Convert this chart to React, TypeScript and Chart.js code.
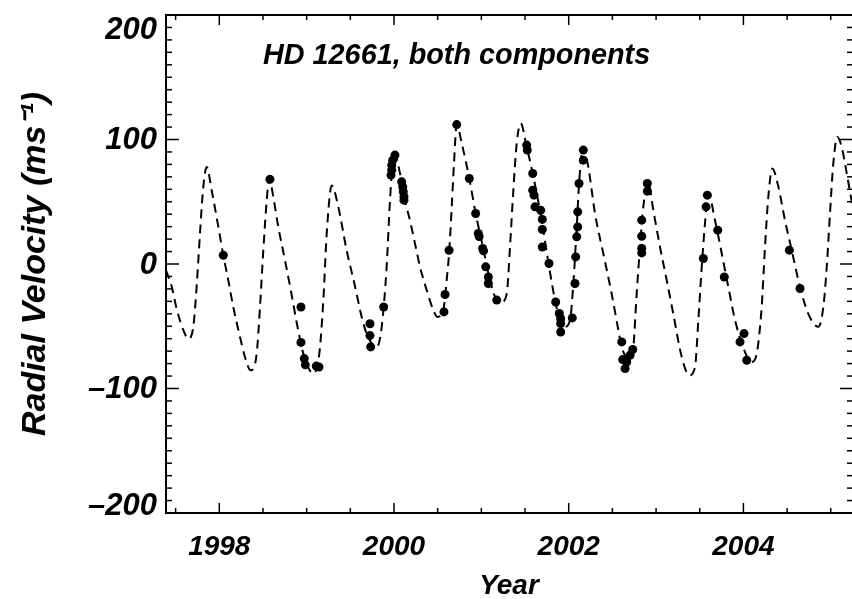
import { useEffect, useRef } from "react";
import { Chart, registerables } from "chart.js";

Chart.register(...registerables);

// Two-planet orbital fit (dashed curve), sampled along time
const curveYears = [
  1997.39, 1997.455, 1997.512, 1997.588, 1997.645, 1997.702, 1997.741, 1997.779, 1997.817, 1997.856,
  1997.913, 1997.989, 1998.046, 1998.103, 1998.16, 1998.237, 1998.294, 1998.359, 1998.428, 1998.466,
  1998.504, 1998.543, 1998.572, 1998.618, 1998.675, 1998.752, 1998.829, 1998.886, 1998.962, 1999.076,
  1999.145, 1999.191, 1999.23, 1999.287, 1999.362, 1999.458, 1999.554, 1999.63, 1999.687, 1999.802,
  1999.859, 1999.916, 1999.954, 2000.0, 2000.069, 2000.126, 2000.183, 2000.24, 2000.298, 2000.374,
  2000.45, 2000.496, 2000.564, 2000.603, 2000.633, 2000.661, 2000.687, 2000.718, 2000.775, 2000.862,
  2000.935, 2001.022, 2001.099, 2001.176, 2001.233, 2001.29, 2001.328, 2001.366, 2001.405, 2001.451,
  2001.519, 2001.588, 2001.691, 2001.766, 2001.843, 2001.9, 2001.958, 2002.015, 2002.053, 2002.092,
  2002.121, 2002.167, 2002.224, 2002.301, 2002.396, 2002.492, 2002.568, 2002.607, 2002.702, 2002.74,
  2002.778, 2002.816, 2002.854, 2002.911, 2002.969, 2003.045, 2003.122, 2003.197, 2003.294, 2003.381,
  2003.446, 2003.484, 2003.523, 2003.56, 2003.598, 2003.675, 2003.752, 2003.827, 2003.904, 2003.981,
  2004.095, 2004.152, 2004.209, 2004.247, 2004.285, 2004.331, 2004.4, 2004.476, 2004.553, 2004.648,
  2004.743, 2004.858, 2004.915, 2004.954, 2004.991, 2005.029, 2005.075, 2005.125, 2005.183, 2005.243,
];
const curveValues = [
  -5, -18, -36, -53, -60, -50.5, -18, 24.5, 62, 78,
  59, 30, 7, -13, -34.5, -58.6, -74.7, -85.4, -72, -34.5,
  11, 51, 68.7, 54, 30, 3, -25, -47, -72, -88,
  -72, -29, 24.5, 63, 46, 11, -18, -42.5, -56, -67,
  -50.5, -2, 51, 90, 72.7, 51, 35, 16.5, -2.3, -21,
  -37, -42.5, -37, -13, 11, 46, 81, 112, 97, 68.7,
  40.6, 12.5, -13, -29, -30.5, -24, 13.7, 59, 97, 113,
  94, 72.7, 35, 1.7, -29, -45, -50.5, -45, -15.7, 30,
  67, 94, 78, 40.6, 8.4, -24, -53, -67, -77, -67,
  -24, 13.7, 46, 65, 43, 13.7, -13, -40, -74.7, -89.4,
  -82.7, -45, -2.3, 32.6, 56.7, 35, 8.4, -18.4, -45, -64,
  -78.7, -72, -34.5, 13.7, 54, 76.8, 62, 35, 11, -18.4,
  -40, -50.5, -34.5, -2.3, 40.6, 80.8, 102, 94, 72.7, 49,
];

// Measured radial velocities
const obsYears = [
  1998.046, 1998.58, 1998.935, 1998.935, 1998.973, 1998.985, 1999.11, 1999.141, 1999.725, 1999.725,
  1999.733, 1999.882, 1999.966, 1999.974, 1999.974, 1999.985, 2000.011, 2000.088, 2000.1, 2000.106,
  2000.114, 2000.114, 2000.572, 2000.584, 2000.63, 2000.718, 2000.862, 2000.935, 2000.965, 2000.975,
  2001.015, 2001.025, 2001.05, 2001.08, 2001.08, 2001.176, 2001.519, 2001.526, 2001.588, 2001.588,
  2001.603, 2001.614, 2001.679, 2001.698, 2001.698, 2001.698, 2001.774, 2001.851, 2001.892, 2001.908,
  2001.908, 2001.908, 2002.041, 2002.072, 2002.08, 2002.092, 2002.103, 2002.103, 2002.118, 2002.167,
  2002.167, 2002.607, 2002.618, 2002.645, 2002.664, 2002.702, 2002.733, 2002.836, 2002.836, 2002.836,
  2002.836, 2002.9, 2002.9, 2003.541, 2003.572, 2003.587, 2003.706, 2003.781, 2003.961, 2004.007,
  2004.038, 2004.526, 2004.648,
];
const obsValues = [
  7, 68, -34.5, -63, -76, -81, -82, -82.7, -48, -57.5,
  -66.6, -34.5, 71.4, 75.4, 79.4, 83.4, 87.5, 66, 62, 58,
  54, 51.3, -38.5, -24.5, 11, 112, 68.7, 40.6, 24.5, 22,
  12.5, 10.5, -2.3, -10.4, -15.7, -29, 95.5, 91.5, 72.7, 59.3,
  55.3, 45.9, 43.2, 35.8, 27.7, 13.7, 0.4, -30.5, -39.8, -43.8,
  -47.8, -54.6, -43.3, -15.7, 5.7, 21.8, 29.8, 41.9, 64.7, 83.4,
  91.5, -62.6, -76.8, -84, -78.7, -73.3, -68.7, 35.2, 22.3, 12.5,
  8.9, 64.7, 58.5, 4.4, 45.9, 55.3, 27.2, -10.4, -62.6, -55.9,
  -77.3, 11.1, -19.7,
];

const xTickYears = [1998, 2000, 2002, 2004];
const yTickValues = [-200, -100, 0, 100, 200];
const plotTitle = "HD 12661, both components";

const SANS = "'Liberation Sans', Arial, Helvetica, sans-serif";

// Frame with inward major/minor ticks, y labels and the in-plot title
const framePlugin = {
  id: "frameTicks",
  afterDraw(chart: any) {
    const { ctx, chartArea: a, scales } = chart;
    const xs = scales.x;
    const ys = scales.y;
    ctx.save();
    ctx.strokeStyle = "#000";
    ctx.fillStyle = "#000";
    ctx.lineWidth = 1.5;
    const seg = (x1: number, y1: number, x2: number, y2: number) => {
      ctx.beginPath();
      ctx.moveTo(x1, y1);
      ctx.lineTo(x2, y2);
      ctx.stroke();
    };
    const rightEdge = a.right + 1;
    for (let v = -200; v <= 200; v += 10) {
      const y = ys.getPixelForValue(v);
      const len = v % 100 === 0 ? 13 : 6;
      seg(a.left, y, a.left + len, y);
      seg(rightEdge - len, y, rightEdge, y);
    }
    for (let k = Math.ceil(xs.min * 2); k <= Math.floor(xs.max * 2); k++) {
      const v = k / 2;
      const x = xs.getPixelForValue(v);
      const len = v % 2 === 0 ? 10 : 5;
      seg(x, a.bottom, x, a.bottom - len);
      seg(x, a.top, x, a.top + len);
    }
    ctx.lineWidth = 2;
    ctx.beginPath();
    ctx.moveTo(rightEdge + 1, a.top);
    ctx.lineTo(a.left, a.top);
    ctx.lineTo(a.left, a.bottom);
    ctx.lineTo(rightEdge + 1, a.bottom);
    ctx.stroke();
    seg(rightEdge + 1, a.top, rightEdge + 1, a.bottom);

    ctx.font = `italic bold 31px ${SANS}`;
    ctx.textAlign = "right";
    ctx.textBaseline = "middle";
    for (const v of yTickValues) {
      let y = ys.getPixelForValue(v);
      y = Math.min(Math.max(y, a.top + 14), a.bottom - 8);
      ctx.fillText(v < 0 ? `\u2013${-v}` : String(v), a.left - 9, y + 1);
    }

    ctx.font = `italic bold 28.8px ${SANS}`;
    ctx.textAlign = "left";
    ctx.textBaseline = "alphabetic";
    ctx.fillText(plotTitle, a.left + 97, a.top + 49);
    ctx.restore();
  },
};

export default function App() {
  const canvasRef = useRef<HTMLCanvasElement | null>(null);

  useEffect(() => {
    const canvas = canvasRef.current;
    if (!canvas) return;
    const axisFont = (size: number, lineHeight = 1.2) => ({
      family: SANS,
      size,
      style: "italic" as const,
      weight: "bold" as const,
      lineHeight,
    });
    const chart = new Chart(canvas, {
      type: "line",
      data: {
        datasets: [
          {
            type: "scatter",
            label: "observed",
            data: obsYears.map((x, i) => ({ x, y: obsValues[i] })),
            pointRadius: 4.5,
            pointBackgroundColor: "#000",
            pointBorderColor: "#000",
            pointBorderWidth: 0,
            showLine: false,
          } as any,
          {
            type: "line",
            label: "fit",
            data: curveYears.map((x, i) => ({ x, y: curveValues[i] })),
            borderColor: "#000",
            borderWidth: 2,
            borderDash: [9, 6],
            pointRadius: 0,
            cubicInterpolationMode: "monotone",
            fill: false,
          } as any,
        ],
      },
      options: {
        responsive: false,
        animation: false,
        layout: { autoPadding: false, padding: { top: 15, right: 0, left: 0, bottom: 0 } },
        plugins: {
          legend: { display: false },
          tooltip: { enabled: false },
        },
        scales: {
          x: {
            type: "linear",
            min: 1997.39,
            max: 2005.243,
            grid: { display: false, drawTicks: false },
            border: { display: false },
            afterBuildTicks: (s: any) => {
              s.ticks = xTickYears.map((value) => ({ value }));
            },
            afterFit: (s: any) => {
              s.height = 86;
            },
            ticks: {
              padding: 17,
              color: "#000",
              autoSkip: false,
              maxRotation: 0,
              font: axisFont(28),
              callback: (v: any) => String(v),
            },
            title: {
              display: true,
              text: "Year",
              color: "#000",
              font: axisFont(28, 0.9),
              padding: 0,
            },
          },
          y: {
            type: "linear",
            min: -200,
            max: 200,
            grid: { display: false, drawTicks: false },
            border: { display: false },
            ticks: { display: false },
            afterBuildTicks: (s: any) => {
              s.ticks = yTickValues.map((value) => ({ value }));
            },
            afterFit: (s: any) => {
              s.width = 166;
            },
            title: {
              display: true,
              text: "Radial Velocity (ms\u207B\u00B9)",
              color: "#000",
              font: axisFont(34),
              padding: { top: 15, bottom: 0 },
            },
          },
        },
      } as any,
      plugins: [framePlugin],
    });
    return () => chart.destroy();
  }, []);

  return (
    <div style={{ position: "fixed", left: 0, top: 0, width: 852, height: 599, background: "#fff" }}>
      <canvas ref={canvasRef} width={852} height={599} style={{ display: "block" }} />
    </div>
  );
}
